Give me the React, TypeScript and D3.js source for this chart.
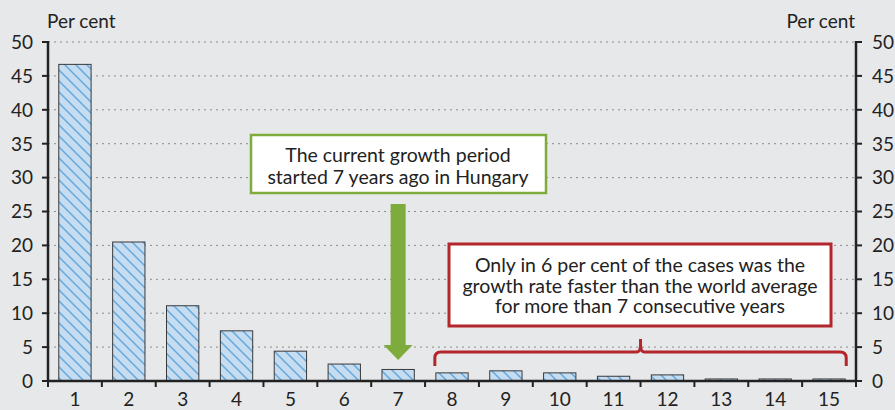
import * as d3 from 'd3';

const years = ['1', '2', '3', '4', '5', '6', '7', '8', '9', '10', '11', '12', '13', '14', '15'];
const shares = [46.7, 20.5, 11.1, 7.4, 4.4, 2.5, 1.7, 1.2, 1.5, 1.2, 0.7, 0.9, 0.3, 0.3, 0.3];
const yTicks = [0, 5, 10, 15, 20, 25, 30, 35, 40, 45, 50];
const greenNote = ['The current growth period', 'started 7 years ago in Hungary'];
const redNote = ['Only in 6 per cent of the cases was the', 'growth rate faster than the world average', 'for more than 7 consecutive years'];

const W = 895;
const H = 410;
const m = { left: 48, right: 39, top: 42, bottom: 29 };
const font = 'Lato, "Open Sans", sans-serif';
const bg = '#e7e8ea';
const green = '#7dab3c';
const red = '#b3262b';
const ink = '#222';

export default function App() {
  const x = d3.scaleBand().domain(years).range([m.left, W - m.right]).paddingInner(0.4).paddingOuter(0.2);
  const y = d3.scaleLinear().domain([0, 50]).range([H - m.bottom, m.top]);
  const x0 = m.left;
  const x1 = W - m.right;
  const step = x.step();
  const bounds = d3.range(years.length + 1).map((i) => x0 + i * step);

  const cx7 = (x('7') ?? 0) + x.bandwidth() / 2;
  const braceL = (x('8') ?? 0) - 1;
  const braceR = (x('15') ?? 0) + x.bandwidth() + 1;
  const braceMid = (braceL + braceR) / 2;

  return (
    <svg width={W} height={H} style={{ position: 'absolute', left: 0, top: 0, background: bg }} fontFamily={font}>
      <defs>
        <pattern id="hatch" patternUnits="userSpaceOnUse" width={11} height={11}>
          <rect width={11} height={11} fill="#c5dcf1" />
          <path d="M0,0 L11,11 M-5.5,5.5 L5.5,16.5 M5.5,-5.5 L16.5,5.5" stroke="#65a8dc" strokeWidth={1.5} />
        </pattern>
      </defs>
      <rect width={W} height={H} fill={bg} />

      {yTicks.filter((t) => t > 0).map((t) => (
        <line key={t} x1={x0} x2={x1} y1={y(t)} y2={y(t)} stroke="#8c8c8c" strokeWidth={1} strokeDasharray="2,4" />
      ))}

      {shares.map((v, i) => (
        <rect key={years[i]} x={x(years[i])} y={y(v)} width={x.bandwidth()} height={y(0) - y(v)}
          fill="url(#hatch)" stroke="#3a3a3a" strokeWidth={1} />
      ))}

      {/* axes */}
      <line x1={x0} x2={x0} y1={y(50) - 1} y2={y(0) + 1} stroke={ink} strokeWidth={2.5} />
      <line x1={x1} x2={x1} y1={y(50) - 1} y2={y(0) + 1} stroke={ink} strokeWidth={2.5} />
      <line x1={x0} x2={x1} y1={y(0)} y2={y(0)} stroke={ink} strokeWidth={2.5} />
      {yTicks.map((t) => (
        <g key={t}>
          <line x1={x0 - 6} x2={x0} y1={y(t)} y2={y(t)} stroke={ink} strokeWidth={2} />
          <line x1={x1} x2={x1 + 6} y1={y(t)} y2={y(t)} stroke={ink} strokeWidth={2} />
          <text x={x0 - 15} y={y(t)} dy="0.36em" textAnchor="end" fontSize={19} fill={ink}>{t}</text>
          <text x={x1 + 16} y={y(t)} dy="0.36em" textAnchor="start" fontSize={19} fill={ink}>{t}</text>
        </g>
      ))}
      {bounds.map((b, i) => (
        <line key={i} x1={b} x2={b} y1={y(0)} y2={y(0) + 6} stroke={ink} strokeWidth={2} />
      ))}
      {years.map((c) => (
        <text key={c} x={(x(c) ?? 0) + x.bandwidth() / 2} y={H - 4} textAnchor="middle" fontSize={19} fill={ink}>{c}</text>
      ))}
      <text x={47} y={28} fontSize={19} fill={ink}>Per cent</text>
      <text x={855} y={28} textAnchor="end" fontSize={19} fill={ink}>Per cent</text>

      {/* green note + arrow */}
      <rect x={251} y={135} width={295} height={58} fill="#fff" stroke={green} strokeWidth={2.5} />
      {greenNote.map((s, i) => (
        <text key={i} x={398} y={162 + i * 21.5} textAnchor="middle" fontSize={19.5} fill={ink}>{s}</text>
      ))}
      <path d={`M${cx7 - 7.5},204 L${cx7 + 7.5},204 L${cx7 + 7.5},345 L${cx7 + 14.5},345 L${cx7},360 L${cx7 - 14.5},345 L${cx7 - 7.5},345 Z`} fill={green} />

      {/* red note + brace */}
      <rect x={449} y={244} width={382} height={82} fill="#fff" stroke={red} strokeWidth={3} />
      {redNote.map((s, i) => (
        <text key={i} x={640} y={272 + i * 20.5} textAnchor="middle" fontSize={19.5} fill={ink}>{s}</text>
      ))}
      <path d={`M${braceL},366 L${braceL},358 Q${braceL},352 ${braceL + 6},352 L${braceMid - 4},352 Q${braceMid},352 ${braceMid},345 L${braceMid},339 L${braceMid},345 Q${braceMid},352 ${braceMid + 4},352 L${braceR - 6},352 Q${braceR},352 ${braceR},358 L${braceR},366`}
        fill="none" stroke={red} strokeWidth={3} />
    </svg>
  );
}
